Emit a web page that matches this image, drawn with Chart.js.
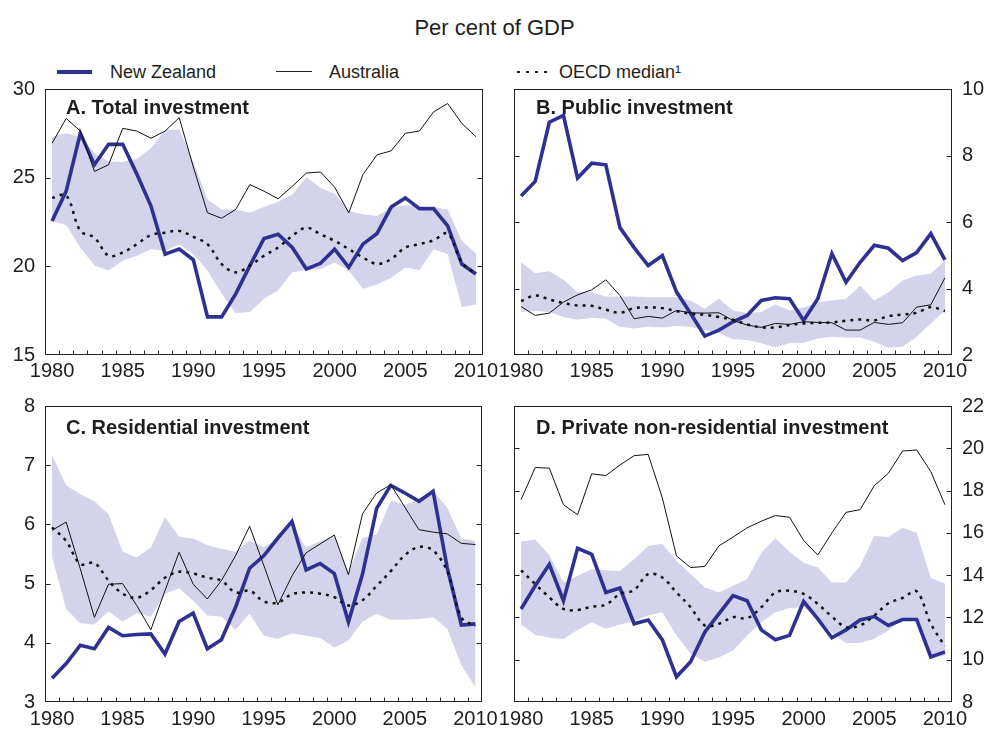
<!DOCTYPE html>
<html>
<head>
<meta charset="utf-8">
<script src="https://cdn.jsdelivr.net/npm/chart.js@4.4.1/dist/chart.umd.min.js"></script>
<style>
  html, body { margin:0; padding:0; background:#fff; width:989px; height:729px; overflow:hidden; }
  body { position:relative; font-family:"Liberation Sans", Arial, sans-serif; color:#1e1e1e; }
  canvas { position:absolute; }
  .t { position:absolute; white-space:nowrap; line-height:1; }
  .ptitle { font-weight:bold; font-size:20px; }
  .leg { font-size:18px; }
</style>
</head>
<body>
<div class="t" style="left:0;width:989px;text-align:center;top:17px;font-size:22px;">Per cent of GDP</div>

<div style="position:absolute;left:57px;top:70px;width:35px;height:4px;background:#2e3192;"></div>
<div class="t leg" style="left:110px;top:63px;">New Zealand</div>
<div style="position:absolute;left:276px;top:71px;width:36px;height:1px;background:#222;"></div>
<div class="t leg" style="left:329px;top:63px;">Australia</div>
<div style="position:absolute;left:517px;top:70.5px;width:33px;height:2.5px;background:repeating-linear-gradient(to right,#222 0 3px,transparent 3px 9px);"></div>
<div class="t leg" style="left:559px;top:63px;">OECD median¹</div>

<canvas id="cA" width="503" height="315" style="left:0px;top:67px;"></canvas>
<canvas id="cB" width="500" height="315" style="left:489px;top:67px;"></canvas>
<canvas id="cC" width="503" height="345" style="left:0px;top:384px;"></canvas>
<canvas id="cD" width="500" height="345" style="left:489px;top:384px;"></canvas>

<div class="t ptitle" style="left:66px;top:97px;">A. Total investment</div>
<div class="t ptitle" style="left:536px;top:97px;">B. Public investment</div>
<div class="t ptitle" style="left:66px;top:417px;">C. Residential investment</div>
<div class="t ptitle" style="left:536px;top:417px;">D. Private non-residential investment</div>

<script>
const years = [];
for (let y = 1980; y <= 2010; y++) years.push(y);

// Panel A: Total investment
const nzA  = [22.56,24.24,27.5,25.73,26.88,26.88,25.2,23.4,20.69,20.97,20.37,17.15,17.15,18.45,20.04,21.57,21.81,21.06,19.85,20.17,20.97,19.94,21.25,21.85,23.34,23.86,23.25,23.26,22.28,20.13,19.57];
const ausA = [26.94,28.34,27.63,25.35,25.73,27.78,27.63,27.22,27.63,28.38,25.6,23.02,22.71,23.21,24.61,24.24,23.81,24.51,25.26,25.32,24.46,23.02,25.17,26.29,26.51,27.5,27.63,28.71,29.18,28.06,27.31];
const medA = [23.86,24.0,22.0,21.62,20.6,20.78,21.25,21.77,21.9,22.0,21.66,21.25,20.13,19.66,20.04,20.6,21.06,21.72,22.18,21.81,21.44,20.97,20.5,20.13,20.41,21.06,21.25,21.47,21.85,20.22,19.57];
const upA  = [27.31,27.5,27.31,26.38,25.91,25.88,26.06,26.66,27.69,27.72,25.9,23.77,23.21,23.21,23.02,23.35,23.64,24.05,25.02,24.42,24.09,23.12,22.93,22.84,23.3,23.45,23.4,23.34,23.21,21.44,20.73];
const loA  = [22.56,22.33,21.06,20.04,19.76,20.32,20.6,20.97,20.88,21.25,20.69,19.76,18.45,17.37,17.43,18.17,18.64,19.66,19.79,19.85,20.22,19.76,18.73,18.97,19.35,19.94,19.79,20.97,20.69,17.71,17.85];

// Panel B: Public investment
const nzB  = [6.78,7.22,9.0,9.21,7.32,7.77,7.72,5.83,5.23,4.69,4.99,3.9,3.25,2.57,2.75,3.0,3.19,3.64,3.72,3.69,3.04,3.69,5.05,4.19,4.79,5.3,5.21,4.84,5.08,5.65,4.86];
const ausB = [3.46,3.19,3.26,3.59,3.81,3.96,4.26,3.79,3.09,3.16,3.11,3.34,3.27,3.26,3.27,3.04,2.9,2.83,2.95,2.92,3.0,2.98,2.97,2.75,2.75,2.98,2.92,2.97,3.44,3.51,4.32];
const medB = [3.62,3.79,3.67,3.56,3.49,3.48,3.36,3.27,3.41,3.43,3.41,3.32,3.24,3.21,3.14,3.06,2.92,2.83,2.83,2.9,2.95,2.97,2.98,3.03,3.07,3.04,3.17,3.22,3.27,3.44,3.32];
const upB  = [4.79,4.46,4.52,4.26,3.89,3.89,3.76,3.76,3.76,3.74,3.74,3.74,3.64,3.39,3.69,3.34,3.26,3.29,3.52,3.34,3.42,3.59,3.64,3.69,4.09,3.64,3.89,4.24,4.39,4.44,4.84];
const loB  = [3.29,3.32,3.29,3.14,3.06,3.12,3.09,2.85,2.8,2.85,2.83,2.87,2.85,2.75,2.67,2.47,2.45,2.35,2.23,2.35,2.37,2.5,2.55,2.53,2.53,2.4,2.22,2.25,2.55,2.95,3.34];

// Panel C: Residential investment
const nzC  = [3.4,3.65,3.96,3.9,4.26,4.12,4.14,4.15,3.81,4.36,4.5,3.9,4.05,4.6,5.26,5.47,5.77,6.05,5.23,5.34,5.17,4.35,5.16,6.27,6.66,6.53,6.39,6.56,5.27,4.3,4.32];
const ausC = [5.9,6.04,5.25,4.43,4.99,5.0,4.63,4.22,4.88,5.53,4.99,4.74,5.05,5.47,5.97,5.31,4.64,5.13,5.52,5.67,5.82,5.15,6.18,6.53,6.67,6.29,5.91,5.87,5.84,5.68,5.66];
const medC = [5.95,5.72,5.33,5.35,5.05,4.83,4.76,4.89,5.1,5.2,5.17,5.1,5.05,4.85,4.88,4.7,4.68,4.82,4.85,4.83,4.77,4.63,4.72,4.96,5.21,5.48,5.62,5.56,5.21,4.43,4.28];
const upC  = [7.17,6.66,6.51,6.39,6.17,5.54,5.44,5.61,6.12,5.79,5.76,5.65,5.59,5.54,5.73,5.61,5.77,6.0,5.61,5.72,5.8,5.19,5.77,5.83,6.4,6.33,6.42,6.57,6.28,5.76,5.72];
const loC  = [5.45,4.57,4.33,4.31,4.53,4.36,4.5,4.44,4.83,4.92,4.71,4.46,4.44,4.22,4.49,4.12,4.07,4.16,4.12,4.08,3.92,4.04,4.36,4.49,4.39,4.39,4.4,4.43,4.24,3.62,3.25];

// Panel D: Private non-residential investment
const nzD  = [12.4,13.5,14.51,12.79,15.27,14.98,13.18,13.39,11.7,11.88,10.94,9.19,9.9,11.3,12.17,13.03,12.79,11.41,10.94,11.15,12.75,11.93,11.04,11.41,11.88,12.04,11.62,11.9,11.9,10.13,10.37];
const ausD = [17.57,19.09,19.06,17.33,16.86,18.79,18.71,19.21,19.65,19.71,17.65,14.91,14.36,14.41,15.38,15.8,16.24,16.55,16.82,16.74,15.64,14.95,16.0,16.97,17.1,18.23,18.82,19.87,19.92,18.9,17.33];
const medD = [14.23,13.58,12.95,12.4,12.35,12.51,12.6,13.11,13.29,14.05,13.89,13.18,12.48,11.62,11.7,12.01,11.96,12.48,13.18,13.26,13.11,12.64,12.04,11.54,11.62,12.09,12.67,12.92,13.23,11.7,10.63];
const upD  = [15.58,15.69,14.95,13.65,13.97,14.28,14.23,14.2,14.75,15.38,15.49,14.67,14.05,13.42,13.18,13.5,13.81,15.06,15.74,15.11,14.59,14.36,13.65,13.65,14.44,15.85,15.8,16.24,16.0,13.86,13.61];
const loD  = [11.67,11.18,11.04,10.98,11.41,11.77,11.46,11.67,11.82,12.09,12.24,11.15,10.29,9.9,10.1,10.44,11.15,11.77,12.24,12.45,12.48,12.01,11.26,10.79,10.79,10.99,11.38,11.93,11.85,10.05,10.21];

const NZ_COLOR = '#2e3192';
const BAND_COLOR = '#d3d3eb';
const INK = '#1e1e1e';
const FONT = { family: '"Liberation Sans", Arial, sans-serif', size: 20 };

const framePlugin = {
  id: 'frame',
  afterDraw(chart) {
    const ctx = chart.ctx, a = chart.chartArea, x = chart.scales.x, y = chart.scales.y;
    ctx.save();
    ctx.strokeStyle = '#222';
    ctx.lineWidth = 1;
    const L = Math.round(a.left) + 0.5, R = Math.round(a.right) - 0.5;
    const T = Math.round(a.top) + 0.5, B = Math.round(a.bottom) - 0.5;
    ctx.strokeRect(L, T, R - L, B - T);
    ctx.beginPath();
    y.ticks.forEach(t => {
      if (t.value > y.min && t.value < y.max) {
        const py = Math.round(y.getPixelForValue(t.value)) + 0.5;
        ctx.moveTo(L, py); ctx.lineTo(L + 5, py);
        ctx.moveTo(R - 5, py); ctx.lineTo(R, py);
      }
    });
    for (let i = 1; i < years.length; i++) {
      const px = Math.round((x.getPixelForValue(i - 1) + x.getPixelForValue(i)) / 2) + 0.5;
      ctx.moveTo(px, B); ctx.lineTo(px, B - 4);
    }
    ctx.stroke();
    ctx.restore();
  }
};

function makePanel(id, nz, aus, med, up, lo, yMin, yMax, step, side, pad, xPad) {
  const datasets = [
    { data: med, borderColor: '#111', borderWidth: 2.5, borderDash: [3, 5], tension: 0.35, pointRadius: 0, fill: false },
    { data: aus, borderColor: '#111', borderWidth: 1, tension: 0, pointRadius: 0, fill: false },
    { data: nz, borderColor: NZ_COLOR, borderWidth: 3.6, tension: 0, pointRadius: 0, fill: false, borderJoinStyle: 'miter' },
    { data: up, borderWidth: 0, borderColor: 'rgba(0,0,0,0)', backgroundColor: BAND_COLOR, pointRadius: 0, tension: 0, fill: '+1' },
    { data: lo, borderWidth: 0, borderColor: 'rgba(0,0,0,0)', pointRadius: 0, tension: 0, fill: false }
  ];
  new Chart(document.getElementById(id), {
    type: 'line',
    data: { labels: years.map(String), datasets },
    plugins: [framePlugin],
    options: {
      responsive: false,
      animation: false,
      devicePixelRatio: 1,
      layout: { padding: pad },
      plugins: { legend: { display: false }, tooltip: { enabled: false } },
      scales: {
        x: {
          type: 'category', offset: true,
          grid: { display: false, drawTicks: false, offset: true },
          border: { display: false },
          ticks: {
            autoSkip: false, maxRotation: 0, minRotation: 0, padding: xPad, color: INK, font: FONT,
            callback: (v, i) => (years[i] % 5 === 0 ? String(years[i]) : '')
          },
          afterFit: s => { s.height = 27; }
        },
        y: {
          position: side, min: yMin, max: yMax,
          grid: { display: false, drawTicks: false },
          border: { display: false },
          ticks: { stepSize: step, padding: 10, color: INK, font: FONT },
          afterFit: s => { s.width = side === 'left' ? 45 : 37; }
        }
      }
    }
  });
}

makePanel('cA', nzA, ausA, medA, upA, loA, 15, 30, 5, 'left',  { top: 20, right: 20, left: 0, bottom: 0 }, 4);
makePanel('cB', nzB, ausB, medB, upB, loB, 2, 10, 2, 'right', { top: 20, right: 0, left: 25, bottom: 0 }, 4);
makePanel('cC', nzC, ausC, medC, upC, loC, 3, 8, 1, 'left',  { top: 20, right: 20, left: 0, bottom: 0 }, 5);
makePanel('cD', nzD, ausD, medD, upD, loD, 8, 22, 2, 'right', { top: 20, right: 0, left: 25, bottom: 0 }, 5);
</script>
</body>
</html>
